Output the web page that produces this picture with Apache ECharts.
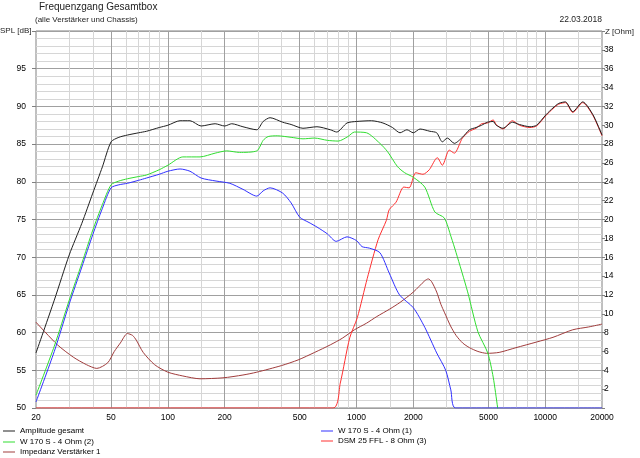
<!DOCTYPE html>
<html>
<head>
<meta charset="utf-8">
<script src="https://cdn.jsdelivr.net/npm/echarts@6/dist/echarts.min.js"></script>
<style>html,body{margin:0;padding:0;background:#fff}#c{width:640px;height:458px}</style>
</head>
<body>
<div id="c"></div>
<script>
// ---- data ----
const freqLabels = [20, 50, 100, 200, 500, 1000, 2000, 5000, 10000, 20000];
const gridFreqs = [30, 40, 50, 60, 70, 80, 90, 100, 150, 200, 300, 400, 500, 600, 700, 800, 900, 1000, 1500, 2000, 3000, 4000, 5000, 6000, 7000, 8000, 9000, 10000, 15000];
const splTicks = [50, 55, 60, 65, 70, 75, 80, 85, 90, 95];

const ampF = [20, 25, 30, 35, 40, 45, 50, 55, 61, 70, 77, 90, 100, 116, 131, 150, 178, 200, 218, 250, 296, 320, 348, 406, 450, 520, 617, 726, 785, 890, 1000, 1200, 1380, 1550, 1700, 1850, 2000, 2170, 2450, 2660, 2850, 3030, 3300, 3640, 3970, 4300, 4600, 4940, 5300, 5500, 5970, 6700, 7300, 8300, 9000, 10100, 11000, 11800, 12800, 14000, 15800, 17900, 20000];
const ampV = [57.3, 64.3, 70.3, 74.5, 78.5, 82.0, 85.3, 85.9, 86.2, 86.5, 86.7, 87.2, 87.5, 88.1, 88.1, 87.4, 87.7, 87.4, 87.7, 87.3, 86.9, 88.0, 88.5, 87.9, 87.6, 87.1, 87.3, 86.9, 86.6, 87.8, 88.0, 88.1, 87.8, 87.2, 86.5, 86.9, 86.5, 87.0, 86.7, 86.5, 85.3, 85.8, 85.1, 85.9, 86.9, 87.2, 87.5, 87.9, 88.0, 87.5, 87.1, 87.9, 87.6, 87.3, 87.5, 88.9, 89.8, 90.4, 90.6, 89.3, 90.6, 88.9, 86.2];

const w1F = [20, 25, 30, 35, 40, 45, 50, 55, 61, 70, 77, 90, 100, 116, 131, 150, 180, 213, 250, 296, 320, 348, 406, 450, 500, 560, 617, 700, 780, 890, 1000, 1070, 1170, 1330, 1490, 1690, 2000, 2300, 2660, 2970, 3160, 3350, 20000];
const w1V = [50.8, 57.5, 63.8, 68.7, 73.0, 76.5, 79.2, 79.6, 79.8, 80.2, 80.5, 81.0, 81.4, 81.7, 81.4, 80.5, 80.1, 79.8, 79.0, 78.1, 78.8, 79.2, 78.5, 77.2, 75.3, 74.6, 74.0, 73.1, 72.1, 72.7, 72.2, 71.4, 71.2, 70.6, 67.9, 65.0, 63.3, 60.7, 57.3, 55.0, 52.4, 50, 50];

const w2F = [20, 25, 30, 35, 40, 45, 50, 55, 61, 70, 77, 90, 100, 120, 148, 178, 205, 240, 296, 320, 340, 380, 450, 520, 600, 700, 800, 900, 975, 1130, 1330, 1460, 1650, 1800, 2000, 2300, 2600, 2920, 3170, 3370, 3880, 4400, 4960, 5300, 5600, 6000];
const w2V = [51.7, 58.2, 64.3, 69.2, 73.6, 77.0, 79.6, 80.1, 80.4, 80.7, 80.9, 81.6, 82.2, 83.3, 83.3, 83.8, 84.1, 83.9, 84.1, 85.5, 86.0, 86.1, 85.9, 85.7, 85.8, 85.5, 85.4, 86.0, 86.6, 86.5, 85.1, 84.0, 82.0, 81.2, 80.6, 79.3, 76.0, 75.2, 72.7, 70.6, 65.4, 60.1, 57.3, 54.1, 50, 45];

const dsmF = [20, 750, 820, 920, 1010, 1140, 1300, 1440, 1490, 1620, 1780, 1900, 2060, 2250, 2430, 2680, 2850, 3100, 3300, 3640, 3970, 4300, 4600, 4940, 5300, 5500, 5970, 6700, 7300, 8300, 9000, 10100, 11000, 11800, 12800, 14000, 15800, 17900, 20000];
const dsmV = [50, 50, 53.3, 59.3, 62.0, 67.2, 72.3, 74.9, 76.3, 77.3, 79.3, 79.2, 81.2, 81.0, 81.6, 83.2, 82.2, 84.2, 83.8, 85.8, 86.7, 87.1, 87.7, 87.8, 88.2, 87.6, 87.0, 88.1, 87.5, 87.2, 87.4, 88.8, 89.7, 90.3, 90.5, 89.2, 90.5, 88.8, 86.1];

const impF = [20, 26, 31.5, 37, 42, 48, 52, 56, 61, 65, 68, 74, 85, 100, 120, 148, 196, 250, 296, 400, 490, 600, 726, 840, 975, 1130, 1280, 1500, 1700, 2000, 2300, 2400, 2500, 2660, 2800, 2930, 3150, 3370, 3650, 3970, 4400, 4900, 5700, 7000, 9000, 11000, 14000, 17000, 20000];
const impV = [9.1, 6.7, 5.4, 4.6, 4.2, 4.8, 6.0, 6.9, 7.9, 7.7, 7.2, 5.9, 4.6, 3.8, 3.4, 3.1, 3.2, 3.5, 3.8, 4.5, 5.1, 5.9, 6.7, 7.4, 8.3, 9.0, 9.7, 10.5, 11.2, 12.3, 13.5, 13.7, 13.4, 12.3, 11.0, 10.1, 8.7, 7.7, 6.9, 6.4, 6.0, 5.8, 5.9, 6.4, 7.0, 7.5, 8.3, 8.6, 8.9];

const names = ['Amplitude gesamt', 'W 170 S - 4 Ohm (1)', 'W 170 S - 4 Ohm (2)', 'DSM 25 FFL - 8 Ohm (3)', 'Impedanz Verstärker 1'];

// ---- chart ----
const FONT = 'Liberation Sans';
const DARK = '#a0a0a0', LIGHT = '#d6d6d6';
const zip = (a, b) => a.map((f, i) => [f, b[i]]);

const chart = echarts.init(document.getElementById('c'), null, {renderer: 'canvas'});
function line(name, f, v, color, yIdx, z) {
  return {
    name: name, type: 'line', data: zip(f, v), yAxisIndex: yIdx,
    showSymbol: false, symbol: 'none', smooth: 0.25, z: z,
    lineStyle: {color: color, width: 1}, itemStyle: {color: color},
    emphasis: {disabled: true}, silent: true, animation: false
  };
}
function leg(name, left, cy) {
  return {
    data: [name], orient: 'horizontal', left: left, top: cy - 5, padding: 0,
    icon: 'rect', itemWidth: 12, itemHeight: 1,
    textStyle: {fontFamily: FONT, fontSize: 8, color: '#000', lineHeight: 10},
    selectedMode: false
  };
}
chart.setOption({
  animation: false,
  grid: {left: 36, right: 38, top: 31, bottom: 50, show: true, borderColor: '#808080', borderWidth: 1, backgroundColor: '#fff'},
  xAxis: {
    type: 'log', logBase: 10, min: 20, max: 20000,
    axisLine: {show: false},
    axisTick: {show: false, customValues: gridFreqs},
    axisLabel: {customValues: freqLabels, fontFamily: FONT, fontSize: 8.5, color: '#000', margin: 5,
      formatter: v => String(Math.round(v))},
    splitLine: {show: true, lineStyle: {width: 1, color: gridFreqs.map(f => freqLabels.indexOf(f) >= 0 ? DARK : LIGHT)}},
    minorSplitLine: {show: false}
  },
  yAxis: [{
    type: 'value', min: 50, max: 100, interval: 5,
    axisLine: {show: false},
    axisTick: {show: true, length: 4, lineStyle: {color: '#808080'}},
    axisLabel: {fontFamily: FONT, fontSize: 8.5, color: '#000', margin: 10,
      formatter: v => (v >= 100 ? '' : String(v))},
    splitLine: {show: true, lineStyle: {color: DARK, width: 1}},
    minorTick: {show: false, splitNumber: 5},
    minorSplitLine: {show: true, lineStyle: {color: LIGHT, width: 1}}
  }, {
    type: 'value', min: 0, max: 40, interval: 2, position: 'right',
    axisLine: {show: false},
    axisTick: {show: true, length: 3, lineStyle: {color: '#808080'}},
    axisLabel: {fontFamily: FONT, fontSize: 8.5, color: '#000', margin: 2,
      formatter: v => (v <= 0 || v >= 40 ? '' : String(v))},
    splitLine: {show: false}
  }],
  legend: [
    leg(names[0], 3, 431),
    leg(names[2], 3, 442),
    leg(names[4], 3, 452),
    leg(names[1], 321, 431),
    leg(names[3], 321, 441)
  ],
  graphic: [
    {type: 'text', left: 39, top: 2, style: {text: 'Frequenzgang Gesamtbox', font: '10px "Liberation Sans"', fill: '#222'}},
    {type: 'text', left: 35, top: 16, style: {text: '(alle Verstärker und Chassis)', font: '8px "Liberation Sans"', fill: '#222'}},
    {type: 'text', right: 38, top: 15, style: {text: '22.03.2018', font: '8.5px "Liberation Sans"', fill: '#222'}},
    {type: 'text', left: 0, top: 27, style: {text: 'SPL [dB]', font: '8px "Liberation Sans"', fill: '#222'}},
    {type: 'text', left: 605, top: 28, style: {text: 'Z [Ohm]', font: '8px "Liberation Sans"', fill: '#222'}}
  ],
  series: [
    line(names[4], impF, impV, '#a03c3c', 1, 3),
    line(names[3], dsmF, dsmV, '#ff3030', 0, 4),
    line(names[2], w2F, w2V, '#30dd30', 0, 5),
    line(names[1], w1F, w1V, '#3030ff', 0, 6),
    line(names[0], ampF, ampV, '#202020', 0, 7)
  ]
});
</script>
</body>
</html>
